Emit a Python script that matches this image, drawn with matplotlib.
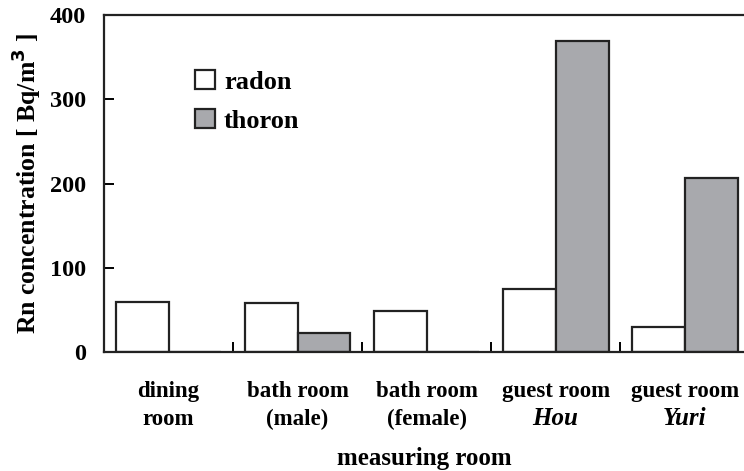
import matplotlib.pyplot as plt
import numpy as np

rooms_line1 = ["dining", "bath room", "bath room", "guest room", "guest room"]
rooms_line2 = ["room", "(male)", "(female)", "Hou", "Yuri"]
line2_italic = [False, False, False, True, True]
radon = [59, 58, 49, 75, 30]
thoron = [0, 22, 0, 369, 206]

plt.rcParams["font.family"] = "Liberation Serif"
plt.rcParams["font.weight"] = "bold"

fig = plt.figure(figsize=(7.44, 4.71), dpi=100)
ax = fig.add_axes([104 / 744, 1 - 352 / 471, 640 / 744, 337 / 471])

x = np.arange(len(radon))
w = 0.41
ax.bar(x - w / 2, radon, w, color="white", edgecolor="#222222", linewidth=1.6, label="radon")
ax.bar(x + w / 2, thoron, w, color="#a8a9ad", edgecolor="#222222", linewidth=1.6, label="thoron")

ax.set_xlim(-0.5, 4.46)
ax.set_ylim(0, 400)
ax.set_yticks([0, 100, 200, 300, 400])
ax.tick_params(axis="y", direction="in", length=7, width=1.4, labelsize=17.5, pad=13)
ax.set_xticks(x)
ax.set_xticklabels([""] * len(x))
ax.tick_params(axis="x", which="major", length=0)
ax.set_xticks(x[:-1] + 0.5, minor=True)
ax.tick_params(axis="x", which="minor", direction="in", length=7, width=1.4)

for s in ["left", "bottom", "top"]:
    ax.spines[s].set_linewidth(1.6)
    ax.spines[s].set_color("#222222")
ax.spines["right"].set_visible(False)

for i in range(len(x)):
    ax.annotate(rooms_line1[i], (x[i], 0), xycoords=("data", "axes fraction"),
                xytext=(0, -32.4), textcoords="offset points", ha="center", va="baseline",
                fontsize=16.5, fontweight="bold")
    ax.annotate(rooms_line2[i], (x[i], 0), xycoords=("data", "axes fraction"),
                xytext=(0, -52.6), textcoords="offset points", ha="center", va="baseline",
                fontsize=18 if line2_italic[i] else 16.5, fontweight="bold",
                fontstyle="italic" if line2_italic[i] else "normal")

ax.set_xlabel("measuring room", fontsize=18, fontweight="bold", va="baseline")
ax.xaxis.set_label_coords(0.5, -0.335)
ax.set_ylabel("Rn concentration [ Bq/m$^\\mathbf{3}$ ]", fontsize=18.5, fontweight="bold", labelpad=5)

ax.legend(loc="upper left", bbox_to_anchor=(0.105, 0.907), frameon=False, fontsize=19,
          handlelength=0.75, handleheight=0.7, handletextpad=0.35, labelspacing=0.6)

fig.savefig("out.png", dpi=100)
